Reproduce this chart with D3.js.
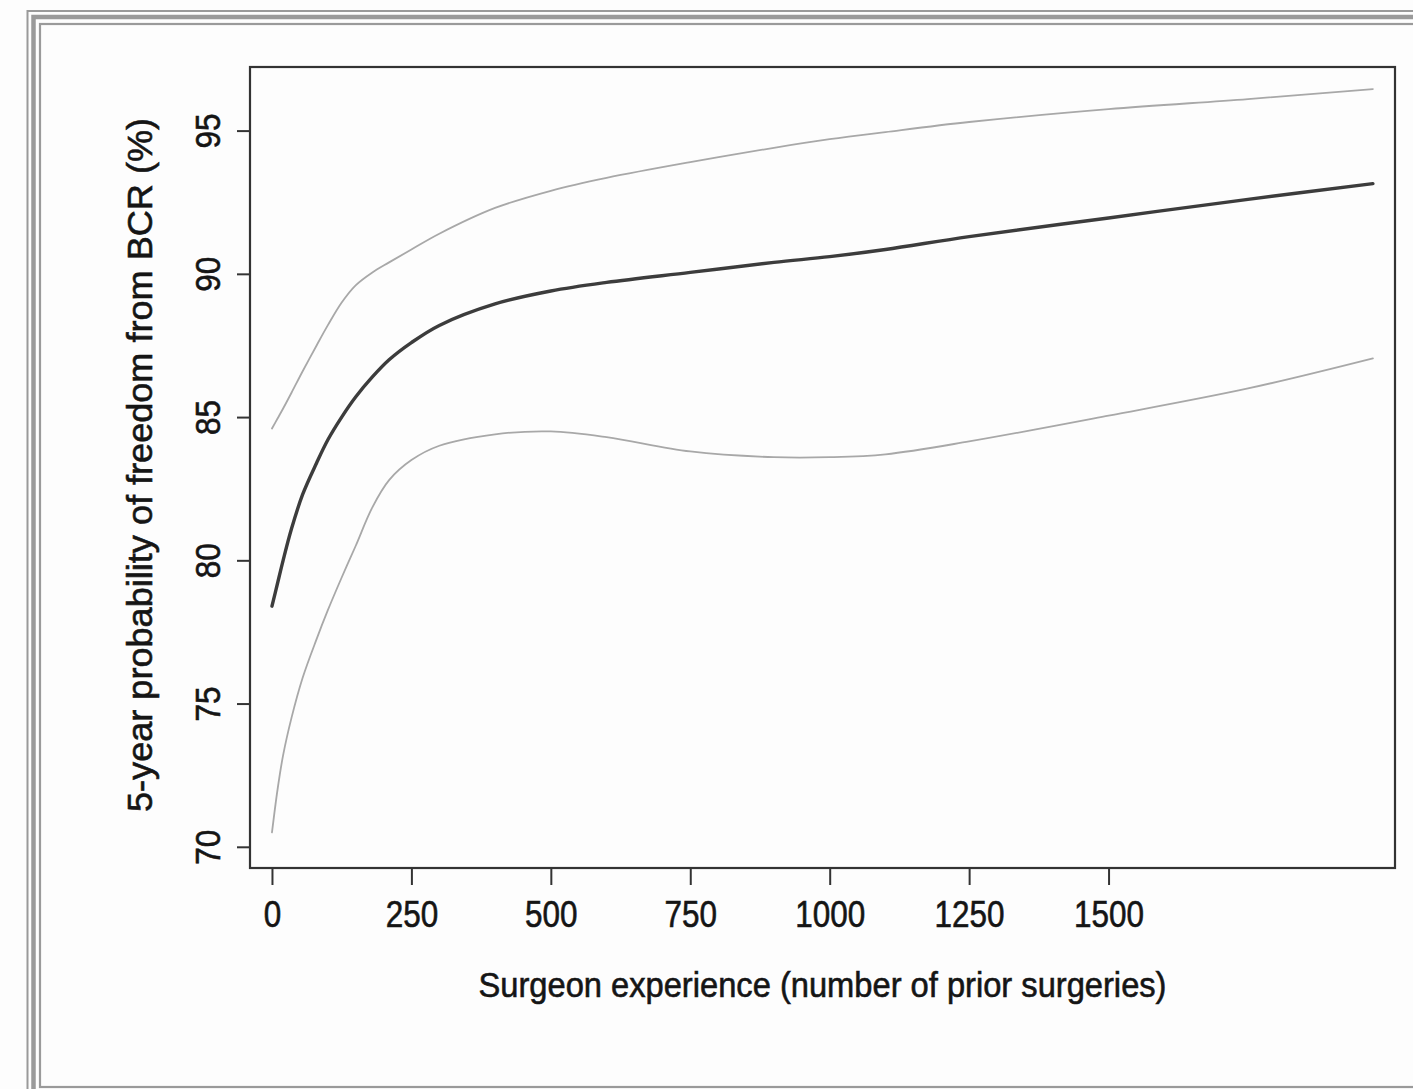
<!DOCTYPE html>
<html>
<head>
<meta charset="utf-8">
<script src="https://cdn.jsdelivr.net/npm/d3@7"></script>
<style>
  html, body { margin: 0; padding: 0; background: #fdfdfd; }
  svg { display: block; }
  text { font-family: "Liberation Sans", Arial, Helvetica, sans-serif; fill: #151515; stroke: #151515; stroke-width: 0.6px; }
</style>
</head>
<body>
<svg id="chart" width="1413" height="1089"></svg>
<script>
// Surgeon experience (number of prior surgeries)
const experience = [0, 10, 20, 35, 55, 80, 100, 125, 150, 180, 210, 250, 300, 400, 500, 600, 750, 900, 1000, 1100, 1250, 1500, 1750, 1974];
// 5-year probability of freedom from BCR (%): estimate and confidence band
const estimate = [78.4, 79.2, 80.0, 81.1, 82.3, 83.4, 84.2, 85.0, 85.7, 86.4, 87.0, 87.6, 88.2, 88.95, 89.4, 89.7, 90.05, 90.4, 90.6, 90.85, 91.3, 91.95, 92.6, 93.15];
const upperBound = [84.6, 84.95, 85.3, 85.85, 86.6, 87.5, 88.2, 89.0, 89.6, 90.05, 90.4, 90.85, 91.4, 92.3, 92.9, 93.35, 93.9, 94.4, 94.7, 94.95, 95.3, 95.75, 96.1, 96.45];
const lowerBound = [70.5, 72.0, 73.2, 74.5, 75.9, 77.25, 78.25, 79.4, 80.5, 81.85, 82.8, 83.5, 84.0, 84.4, 84.5, 84.3, 83.8, 83.6, 83.6, 83.7, 84.15, 85.05, 86.0, 87.05];

const xTicks = [0, 250, 500, 750, 1000, 1250, 1500];
const yTicks = [70, 75, 80, 85, 90, 95];
const xTitle = "Surgeon experience (number of prior surgeries)";
const yTitle = "5-year probability of freedom from BCR (%)";

const svg = d3.select("#chart");

// Page frame: three nested grey rules
const frame = svg.append("g").attr("fill", "none").attr("stroke", "#9a9a9a");
frame.append("rect").attr("x", 27.5).attr("y", 11).attr("width", 1500).attr("height", 1200).attr("stroke-width", 2);
frame.append("rect").attr("x", 33.5).attr("y", 17).attr("width", 1500).attr("height", 1200).attr("stroke-width", 4.5);
frame.append("rect").attr("x", 40).attr("y", 24).attr("width", 1500).attr("height", 1063).attr("stroke-width", 2.2);

// Plot region
const box = { left: 250, right: 1395, top: 67, bottom: 868 };

const x = d3.scaleLinear().domain([-39.4, 2013.6]).range([box.left, box.right]);
const y = d3.scaleLinear().domain([69.26, 97.22]).range([box.bottom, box.top]);

// Axes
const xAxis = d3.axisBottom(x).tickValues(xTicks).tickSize(17).tickPadding(5).tickFormat(d3.format("d"));
const yAxis = d3.axisLeft(y).tickValues(yTicks).tickSize(13).tickFormat(d3.format("d"));

const gx = svg.append("g").attr("transform", `translate(0,${box.bottom})`).call(xAxis);
gx.select(".domain").remove();
gx.selectAll(".tick line").attr("stroke", "#333").attr("stroke-width", 2);
gx.selectAll(".tick text")
  .attr("y", 59).attr("dy", null)
  .attr("font-size", 36)
  .attr("fill", "#151515")
  .attr("textLength", d => String(d).length * 17.5)
  .attr("lengthAdjust", "spacingAndGlyphs");

const gy = svg.append("g").attr("transform", `translate(${box.left},0)`).call(yAxis);
gy.select(".domain").remove();
gy.selectAll(".tick line").attr("stroke", "#333").attr("stroke-width", 2);
gy.selectAll(".tick text")
  .attr("x", null).attr("dy", null)
  .attr("transform", "translate(-30,0) rotate(-90)")
  .attr("text-anchor", "middle")
  .attr("font-size", 35)
  .attr("fill", "#151515")
  .attr("textLength", d => String(d).length * 17.5)
  .attr("lengthAdjust", "spacingAndGlyphs");

// Curves
const line = d3.line().x(d => x(d[0])).y(d => y(d[1])).curve(d3.curveCatmullRom.alpha(0.5));
const series = [
  { values: upperBound, color: "#a8a8a8", width: 1.8 },
  { values: lowerBound, color: "#a8a8a8", width: 1.8 },
  { values: estimate, color: "#3c3c3c", width: 3.4 }
];
svg.append("g").selectAll("path").data(series).join("path")
  .attr("d", s => line(experience.map((e, i) => [e, s.values[i]])))
  .attr("fill", "none")
  .attr("stroke", s => s.color)
  .attr("stroke-width", s => s.width)
  .attr("stroke-linecap", "round");

// Plot border
svg.append("rect")
  .attr("x", box.left).attr("y", box.top)
  .attr("width", box.right - box.left).attr("height", box.bottom - box.top)
  .attr("fill", "none").attr("stroke", "#333").attr("stroke-width", 2.2);

// Axis titles
svg.append("text")
  .attr("x", (box.left + box.right) / 2).attr("y", 997)
  .attr("text-anchor", "middle").attr("font-size", 35)
  .attr("textLength", 688).attr("lengthAdjust", "spacingAndGlyphs")
  .text(xTitle);

svg.append("text")
  .attr("transform", `translate(152,465) rotate(-90)`)
  .attr("text-anchor", "middle").attr("font-size", 35)
  .attr("textLength", 694).attr("lengthAdjust", "spacingAndGlyphs")
  .text(yTitle);
</script>
</body>
</html>
